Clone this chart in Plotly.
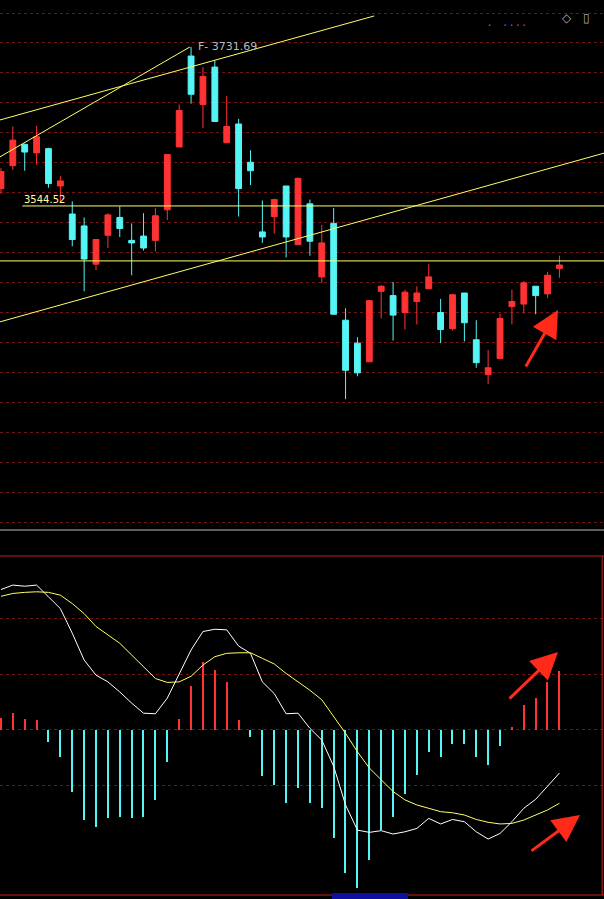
import plotly.graph_objects as go

# Daily candles (index 0..47), prices
opens  = [3565, 3592, 3617, 3607, 3612, 3568, 3535, 3521, 3476, 3510, 3531, 3504, 3509, 3504, 3540, 3614,
          3721, 3664, 3708, 3619, 3641, 3596, 3514, 3532, 3568, 3499, 3547, 3461, 3524, 3410, 3383, 3361,
          3444, 3439, 3419, 3432, 3447, 3419, 3400, 3442, 3387, 3346, 3365, 3426, 3429, 3450, 3441, 3471]
highs  = [3589, 3638, 3618, 3639, 3613, 3580, 3550, 3531, 3505, 3536, 3544, 3524, 3536, 3542, 3605, 3664,
          3731.69, 3708, 3716, 3674, 3647, 3610, 3551, 3553, 3568, 3578, 3552, 3522, 3542, 3424, 3390, 3433,
          3451, 3455, 3446, 3450, 3476, 3435, 3441, 3442, 3410, 3375, 3418, 3446, 3456, 3450, 3467, 3486]
lows   = [3559, 3587, 3586, 3593, 3566, 3548, 3497, 3444, 3469, 3495, 3508, 3463, 3492, 3491, 3528, 3614,
          3665, 3636, 3644, 3619, 3532, 3569, 3501, 3512, 3484, 3499, 3486, 3454, 3417, 3317, 3344, 3361,
          3412, 3386, 3399, 3405, 3447, 3383, 3398, 3385, 3354, 3335, 3365, 3405, 3418, 3417, 3436, 3460]
closes = [3585, 3622, 3608, 3626, 3571, 3574, 3505, 3482, 3505, 3534, 3518, 3501, 3495, 3533, 3605, 3657,
          3676, 3697, 3644, 3638, 3565, 3586, 3508, 3552, 3508, 3577, 3503, 3501, 3417, 3351, 3348, 3433,
          3450, 3416, 3443, 3442, 3461, 3399, 3440, 3407, 3360, 3354, 3412, 3432, 3454, 3439, 3463, 3475]

# MACD panel
hist = [2.1, 3.0, 2.0, 1.8, -2.1, -4.8, -11.0, -16.1, -17.4, -15.8, -15.5, -15.7, -15.5, -12.5, -5.7, 2.0,
        7.9, 12.2, 10.7, 8.6, 1.8, -1.2, -8.2, -9.8, -13.1, -10.3, -13.0, -14.0, -19.3, -25.6, -28.3, -23.3,
        -17.9, -15.5, -11.4, -8.0, -4.0, -4.8, -2.5, -2.5, -4.9, -6.3, -2.8, 0.5, 4.5, 5.8, 8.5, 10.5]
dif = [25.1, 25.9, 25.7, 25.9, 23.8, 21.7, 17.3, 12.5, 9.8, 8.6, 6.8, 4.8, 3.0, 2.9, 5.7, 10.1,
       14.3, 17.6, 18.0, 17.9, 15.0, 13.7, 8.6, 6.5, 2.9, 3.0, 0.3, -1.8, -6.5, -13.4, -17.9, -18.3,
       -18.0, -18.6, -18.2, -17.6, -15.8, -16.8, -16.0, -16.4, -18.2, -19.5, -18.5, -16.4, -14.0, -12.4, -10.1, -7.7]
dea = [23.9, 24.4, 24.6, 24.7, 24.6, 24.1, 22.6, 20.8, 18.5, 17.0, 15.5, 13.4, 11.3, 9.2, 8.5, 8.6,
       9.6, 11.6, 13.1, 13.7, 13.8, 13.8, 12.8, 11.8, 10.1, 8.6, 7.1, 5.4, 2.4, -0.6, -3.9, -6.8,
       -8.9, -11.0, -12.5, -13.4, -14.0, -14.6, -14.8, -15.2, -16.0, -16.5, -16.8, -16.7, -16.1, -15.2, -14.3, -13.1]

# drawn trend lines: (x0, y0, x1, y1) in bar index / price
trend_lines = [(-0.1, 3645.7, 31.4, 3768.2),
               (-0.1, 3602.2, 15.9, 3731.69),
               (-0.1, 3408.0, 50.8, 3606.9)]
level_a = 3544.52
level_b = 3479.8

idx = list(range(len(opens)))
RED = "#ff3333"
CYAN = "#55f5f5"
YEL = "#ffff66"
GRID = "#701515"
XR = [-0.08, 50.75]

fig = go.Figure()
fig.add_trace(go.Candlestick(
    x=idx, open=opens, high=highs, low=lows, close=closes,
    increasing=dict(line=dict(color=RED, width=1), fillcolor=RED),
    decreasing=dict(line=dict(color=CYAN, width=1), fillcolor=CYAN),
    whiskerwidth=0, xaxis="x", yaxis="y", showlegend=False, hoverinfo="skip"))

fig.add_trace(go.Bar(
    x=idx, y=hist, width=0.1,
    marker=dict(color=[RED if h > 0 else CYAN for h in hist], line=dict(width=0)),
    xaxis="x2", yaxis="y2", showlegend=False))
fig.add_trace(go.Scatter(x=idx, y=dif, mode="lines", line=dict(color="white", width=1),
                         xaxis="x2", yaxis="y2", showlegend=False))
fig.add_trace(go.Scatter(x=idx, y=dea, mode="lines", line=dict(color=YEL, width=1),
                         xaxis="x2", yaxis="y2", showlegend=False))

shapes = []
for x0, y0, x1, y1 in trend_lines:
    shapes.append(dict(type="line", xref="x", yref="y", x0=x0, y0=y0, x1=x1, y1=y1,
                       line=dict(color=YEL, width=1)))
shapes.append(dict(type="line", xref="x", yref="y", x0=1.8, x1=XR[1], y0=level_a, y1=level_a,
                   line=dict(color=YEL, width=1)))
shapes.append(dict(type="line", xref="x", yref="y", x0=XR[0], x1=XR[1], y0=level_b, y1=level_b,
                   line=dict(color=YEL, width=1)))
# panel borders
shapes.append(dict(type="line", xref="paper", yref="paper", x0=0, x1=1, y0=1 - 530 / 899, y1=1 - 530 / 899,
                   line=dict(color="#bbbbbb", width=1)))
for yp in (556, 895):
    shapes.append(dict(type="line", xref="paper", yref="paper", x0=0, x1=1, y0=1 - yp / 899, y1=1 - yp / 899,
                       line=dict(color="#c02020", width=1)))
shapes.append(dict(type="line", xref="paper", yref="paper", x0=0.997, x1=0.997, y0=1 - 895 / 899, y1=1 - 556 / 899,
                   line=dict(color="#c02020", width=1)))
shapes.append(dict(type="rect", xref="paper", yref="paper", x0=332 / 604, x1=408 / 604, y0=0, y1=1 - 893 / 899,
                   fillcolor="#1010a0", line=dict(width=0)))

annotations = [
    dict(x=16.4, y=3731.69, xref="x", yref="y", text="F- 3731.69", showarrow=False, xanchor="left",
         font=dict(color="#bbbbbb", size=11, family="DejaVu Sans")),
    dict(x=1.8, y=level_a + 8, xref="x", yref="y", text="3544.52", showarrow=False, xanchor="left",
         font=dict(color="#ffffaa", size=10, family="DejaVu Sans")),
    dict(x=574 / 604, y=1 - 7 / 899, xref="paper", yref="paper", text="◇", showarrow=False,
         font=dict(color="#aaaaaa", size=12)),
    dict(x=592 / 604, y=1 - 7 / 899, xref="paper", yref="paper", text="▯", showarrow=False,
         font=dict(color="#aaaaaa", size=12)),
    dict(x=528 / 604, y=1 - 15 / 899, xref="paper", yref="paper", text="·    · · · ·", showarrow=False,
         font=dict(color="#b040e0", size=12)),
]
# red arrows: (tail px, head px) in screen coordinates
for (tx, ty), (hx, hy) in [((525, 368), (558, 310)), ((508, 700), (558, 652)), ((530, 852), (580, 815))]:
    annotations.append(dict(x=hx / 604, y=1 - hy / 899, xref="paper", yref="paper", ax=tx - hx, ay=ty - hy,
                            axref="pixel", ayref="pixel", text="", showarrow=True, arrowhead=2,
                            arrowsize=1.8, arrowwidth=3, arrowcolor="#ff2a1a"))

fig.update_layout(
    width=604, height=899, margin=dict(l=0, r=0, t=0, b=0),
    paper_bgcolor="black", plot_bgcolor="black",
    shapes=shapes, annotations=annotations, bargap=0,
    xaxis=dict(range=XR, visible=False, rangeslider=dict(visible=False), anchor="y"),
    yaxis=dict(domain=[1 - 530 / 899, 1], range=[3163, 3787], tick0=3736.4, dtick=35.3,
               showticklabels=False, gridcolor=GRID, griddash="dot", zeroline=False),
    xaxis2=dict(range=XR, visible=False, anchor="y2"),
    yaxis2=dict(domain=[1 - 895 / 899, 1 - 556 / 899], range=[-29.5, 31.1], tickvals=[-10, 0, 10, 20],
                showticklabels=False, gridcolor=GRID, griddash="dot", zeroline=False),
)
fig.write_html("out.html", config={"displayModeBar": False})

# drop the browser's default page margin so the chart sits at the window edge
with open("out.html", encoding="utf-8") as f:
    page = f.read()
page = page.replace("<body>", '<body style="margin:0;background:black">', 1)
with open("out.html", "w", encoding="utf-8") as f:
    f.write(page)
